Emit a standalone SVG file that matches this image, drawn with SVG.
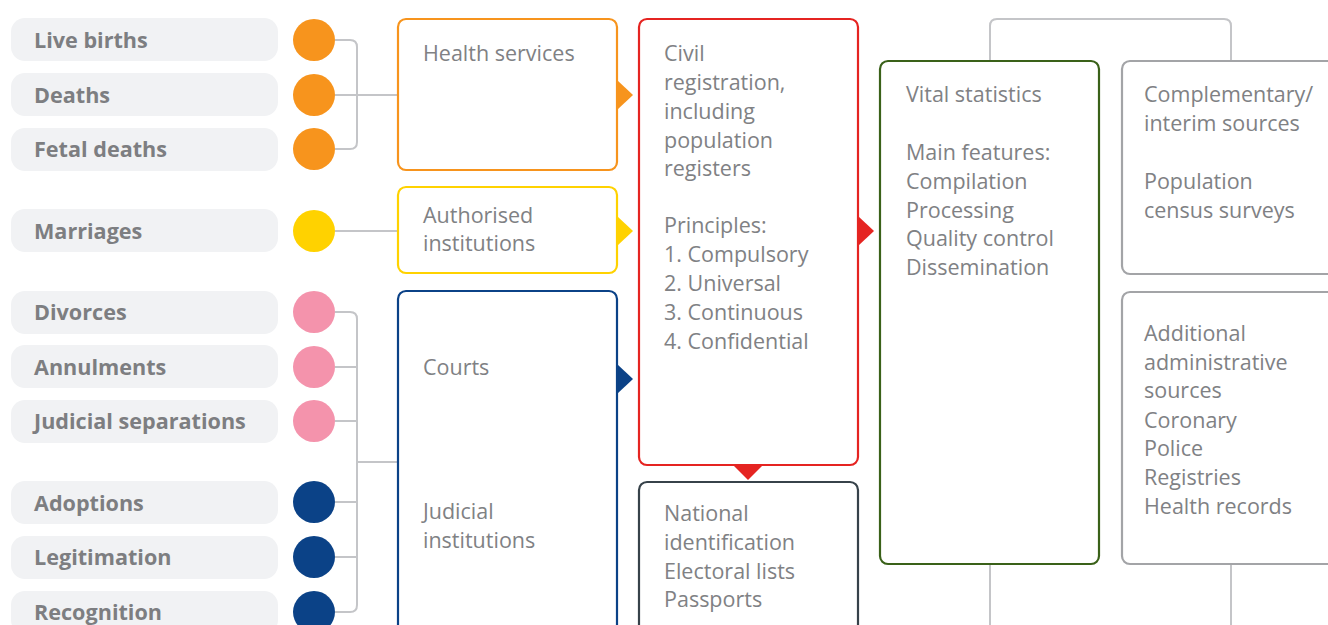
<svg xmlns="http://www.w3.org/2000/svg" width="1328" height="625" viewBox="0 0 1328 625">
<defs>
<style>
.pill{fill:#f1f2f4}
.pt{font-family:"Open Sans","Liberation Sans",sans-serif;font-weight:700;font-size:21.6px;fill:#7d7e81}
.bt{font-family:"Open Sans","Liberation Sans",sans-serif;font-size:21.5px;fill:#808184}
.box{fill:#fff;stroke-width:2.2}
.con{fill:none;stroke:#c4c5c8;stroke-width:2}
</style>
</defs>
<rect width="1328" height="625" fill="#fff"/>
<g id="connectors">
<path class="con" d="M335 40 H350 Q357 40 357 47 V142 Q357 149 350 149 H335"/>
<path class="con" d="M335 95 H398"/>
<path class="con" d="M335 231 H398"/>
<path class="con" d="M335 312 H350 Q357 312 357 319 V605 Q357 612 350 612 H335"/>
<path class="con" d="M335 367 H357 M335 421 H357 M335 502 H357 M335 557 H357 M357 462 H398"/>
<path class="con" d="M990 61 V26 Q990 19 997 19 H1224 Q1231 19 1231 26 V61"/>
<path class="con" d="M990 564 V625 M1231 564 V625"/>
<path fill="#f7941d" d="M617 80 L633 95 L617 110 Z"/>
<path fill="#ffd200" d="M617 216 L633 231 L617 246 Z"/>
<path fill="#0b4287" d="M617 364 L633 379 L617 394 Z"/>
<path fill="#e52421" d="M858 216 L874 231 L858 246 Z"/>
<path fill="#e52421" d="M733 465 L748 480 L763 465 Z"/>
</g>
<g id="n-live"><rect class="pill" x="11" y="18" width="267" height="43" rx="14"/><text class="pt" x="34" y="48">Live births</text><circle cx="314" cy="40" r="21" fill="#f7941d"/></g>
<g id="n-deaths"><rect class="pill" x="11" y="73" width="267" height="43" rx="14"/><text class="pt" x="34" y="103">Deaths</text><circle cx="314" cy="95" r="21" fill="#f7941d"/></g>
<g id="n-fetal"><rect class="pill" x="11" y="128" width="267" height="43" rx="14"/><text class="pt" x="34" y="157">Fetal deaths</text><circle cx="314" cy="149" r="21" fill="#f7941d"/></g>
<g id="n-marriages"><rect class="pill" x="11" y="209" width="267" height="43" rx="14"/><text class="pt" x="34" y="239">Marriages</text><circle cx="314" cy="231" r="21" fill="#ffd200"/></g>
<g id="n-divorces"><rect class="pill" x="11" y="291" width="267" height="43" rx="14"/><text class="pt" x="34" y="320">Divorces</text><circle cx="314" cy="312" r="21" fill="#f493ac"/></g>
<g id="n-annulments"><rect class="pill" x="11" y="345" width="267" height="43" rx="14"/><text class="pt" x="34" y="375">Annulments</text><circle cx="314" cy="367" r="21" fill="#f493ac"/></g>
<g id="n-judsep"><rect class="pill" x="11" y="400" width="267" height="43" rx="14"/><text class="pt" x="34" y="429">Judicial separations</text><circle cx="314" cy="421" r="21" fill="#f493ac"/></g>
<g id="n-adoptions"><rect class="pill" x="11" y="481" width="267" height="43" rx="14"/><text class="pt" x="34" y="511">Adoptions</text><circle cx="314" cy="502" r="21" fill="#0b4287"/></g>
<g id="n-legit"><rect class="pill" x="11" y="536" width="267" height="43" rx="14"/><text class="pt" x="34" y="565">Legitimation</text><circle cx="314" cy="557" r="21" fill="#0b4287"/></g>
<g id="n-recog"><rect class="pill" x="11" y="591" width="267" height="43" rx="14"/><text class="pt" x="34" y="620">Recognition</text><circle cx="314" cy="612" r="21" fill="#0b4287"/></g>
<g id="n-health"><rect class="box" x="398" y="19" width="219" height="151" rx="8" stroke="#f7941d"/><text class="bt" x="423" y="61">Health services</text></g>
<g id="n-auth"><rect class="box" x="398" y="187" width="219" height="86" rx="8" stroke="#ffd200"/><text class="bt" x="423" y="223">Authorised</text><text class="bt" x="423" y="251">institutions</text></g>
<g id="n-courts"><rect class="box" x="398" y="291" width="219" height="360" rx="8" stroke="#0b4287"/><text class="bt" x="423" y="375">Courts</text><text class="bt" x="423" y="519">Judicial</text><text class="bt" x="423" y="548">institutions</text></g>
<g id="n-civil"><rect class="box" x="639" y="19" width="219" height="446" rx="8" stroke="#e52421"/>
<text class="bt" x="664" y="61">Civil</text><text class="bt" x="664" y="90">registration,</text><text class="bt" x="664" y="119">including</text><text class="bt" x="664" y="148">population</text><text class="bt" x="664" y="176">registers</text>
<text class="bt" x="664" y="233">Principles:</text><text class="bt" x="664" y="262">1. Compulsory</text><text class="bt" x="664" y="291">2. Universal</text><text class="bt" x="664" y="320">3. Continuous</text><text class="bt" x="664" y="349">4. Confidential</text></g>
<g id="n-national"><rect class="box" x="639" y="482" width="219" height="200" rx="8" stroke="#37424a"/>
<text class="bt" x="664" y="521">National</text><text class="bt" x="664" y="550">identification</text><text class="bt" x="664" y="579">Electoral lists</text><text class="bt" x="664" y="607">Passports</text></g>
<g id="n-vital"><rect class="box" x="880" y="61" width="219" height="503" rx="8" stroke="#3a6119"/>
<text class="bt" x="906" y="102">Vital statistics</text><text class="bt" x="906" y="160">Main features:</text><text class="bt" x="906" y="189">Compilation</text><text class="bt" x="906" y="218">Processing</text><text class="bt" x="906" y="246">Quality control</text><text class="bt" x="906" y="275">Dissemination</text></g>
<g id="n-compl"><rect class="box" x="1122" y="61" width="230" height="213" rx="8" stroke="#a3a4a7"/>
<text class="bt" x="1144" y="102">Complementary/</text><text class="bt" x="1144" y="131">interim sources</text><text class="bt" x="1144" y="189">Population</text><text class="bt" x="1144" y="218">census surveys</text></g>
<g id="n-addl"><rect class="box" x="1122" y="292" width="230" height="272" rx="8" stroke="#a3a4a7"/>
<text class="bt" x="1144" y="341">Additional</text><text class="bt" x="1144" y="370">administrative</text><text class="bt" x="1144" y="398">sources</text><text class="bt" x="1144" y="428">Coronary</text><text class="bt" x="1144" y="456">Police</text><text class="bt" x="1144" y="485">Registries</text><text class="bt" x="1144" y="514">Health records</text></g>
</svg>
